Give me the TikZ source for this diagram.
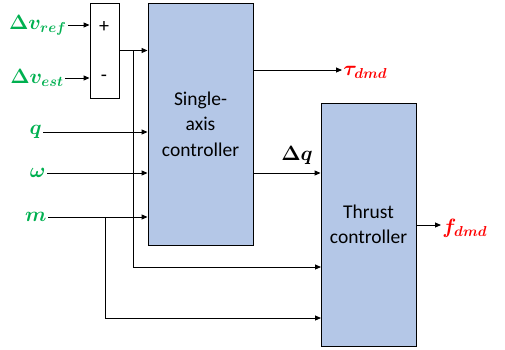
\documentclass[tikz,border=0pt]{standalone}
\usepackage{fontspec}
\setmainfont{Carlito}
\usepackage{amsmath,bm}
\usetikzlibrary{arrows.meta}
\definecolor{boxblue}{HTML}{B4C7E7}
\definecolor{sgreen}{HTML}{00B050}
\definecolor{sred}{HTML}{FF0000}
\begin{document}
\begin{tikzpicture}[x=1pt,y=-1pt,line width=0.9pt,
  >={Triangle[length=6pt,width=5pt]},
  blk/.style={draw,fill=boxblue,font=\fontsize{19.5}{25.5}\selectfont,align=center,inner sep=0pt},
  sumbox/.style={draw,fill=white,inner sep=0pt},
  lbl/.style={font=\fontsize{21}{24}\selectfont,text=sgreen,inner sep=1pt},
  outlbl/.style={font=\fontsize{21}{24}\selectfont,text=sred,inner sep=1pt},
  sign/.style={font=\fontsize{20}{22}\selectfont,inner sep=0pt}]
\useasboundingbox (0,0) rectangle (505,349);
% blocks
\node[sumbox,minimum width=29pt,minimum height=95pt] (sum) at (104.5,50.5) {};
\node[sign] (plus) at (104,27) {+};
\node[sign] (minus) at (104,78) {-};
\node[blk,minimum width=105pt,minimum height=242pt] (sa) at (200.5,124) {Single-\\axis\\controller};
\node[blk,minimum width=95pt,minimum height=243pt] (th) at (368.5,224.5) {Thrust\\controller};
% input labels
\node[lbl,anchor=east] (vref) at (68,25) {$\bm{\Delta v}_{\bm{ref}}$};
\node[lbl,anchor=east] (vest) at (65,78) {$\bm{\Delta v}_{\bm{est}}$};
\node[lbl,anchor=east] (q) at (43,132) {$\bm{q}$};
\node[lbl,anchor=east] (w) at (47,173) {$\bm{\omega}$};
\node[lbl,anchor=east] (m) at (48,217) {$\bm{m}$};
% output labels
\node[outlbl,anchor=west] (tau) at (342,72) {$\bm{\tau}_{\bm{dmd}}$};
\node[outlbl,anchor=west] (f) at (441,228) {$\bm{f}_{\bm{dmd}}$};
\node[font=\fontsize{21}{24}\selectfont,inner sep=0pt] (dq) at (297,155) {$\bm{\Delta q}$};
% coordinates
\coordinate (j1) at (133,51);
\coordinate (jm) at (105,217);
\coordinate (r70) at (253,70);
\coordinate (r173) at (253,173);
\coordinate (r225) at (416,225);
\coordinate (l267) at (321,267);
\coordinate (l318) at (321,318);
% connectors
\draw[->] (vref.east) -- (vref.east -| sum.west);
\draw[->] (vest.east) -- (vest.east -| sum.west);
\draw[->] (sum.east) -- (sum.east -| sa.west);
\draw[->] (q.east) -- (q.east -| sa.west);
\draw[->] (w.east) -- (w.east -| sa.west);
\draw[->] (m.east) -- (m.east -| sa.west);
\draw[->] (j1) |- (l267);
\draw[->] (jm) |- (l318);
\draw[->] (r70) -- (tau.west |- r70);
\draw[->] (r173) -- (r173 -| th.west);
\draw[->] (r225) -- (f.west |- r225);
\end{tikzpicture}
\end{document}
